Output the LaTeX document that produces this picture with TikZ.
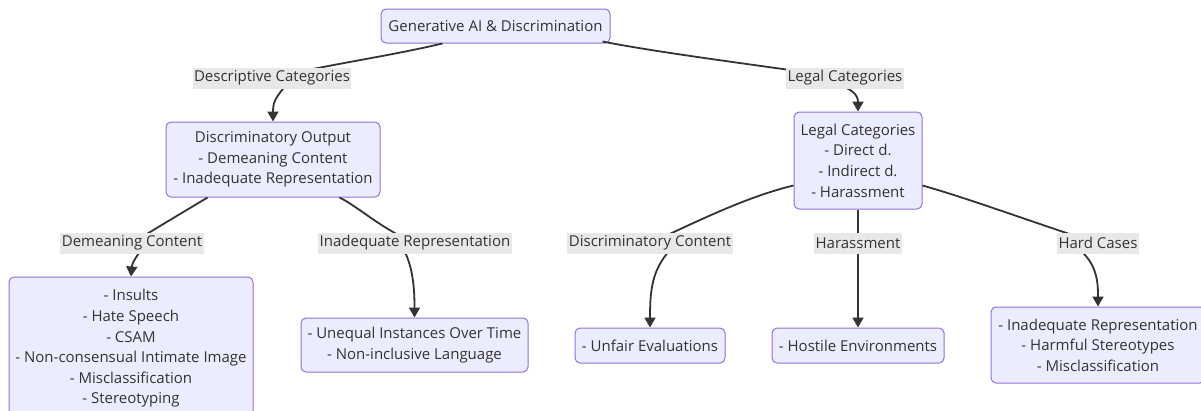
\documentclass[tikz,border=0pt]{standalone}
\usepackage{fontspec}
\setmainfont{Open Sans}
\usetikzlibrary{arrows.meta}
\definecolor{boxfill}{HTML}{ECECFF}
\definecolor{boxline}{HTML}{9370DB}
\definecolor{txt}{HTML}{333333}
\definecolor{lblbg}{HTML}{E8E8E8}
\tikzset{
  box/.style={draw=boxline, fill=boxfill, line width=1pt, rounded corners=5pt, align=center, text=txt, inner sep=0pt, font=\fontsize{15}{20.6}\selectfont},
  lbl/.style={fill=lblbg, text=txt, inner sep=1.5pt, font=\fontsize{15}{16}\selectfont, minimum height=21pt},
  conn/.style={draw=txt, line width=1.8pt},
  arr/.style={conn, -{Triangle[width=11pt,length=10pt]}},
}
\begin{document}
\begin{tikzpicture}[x=1pt,y=-1pt]
\clip (0,0) rectangle (1201,410);
\fill[white] (0,0) rectangle (1201,410);
% nodes
\node[box, minimum width=229pt, minimum height=34pt] (root) at (495.5,26) {Generative AI \& Discrimination};
\node[box, minimum width=214pt, minimum height=75pt] (do) at (273,159.5) {Discriminatory Output\\- Demeaning Content\\- Inadequate Representation};
\node[box, minimum width=128pt, minimum height=97pt] (lc) at (858,160.5) {Legal Categories\\- Direct d.\\- Indirect d.\\- Harassment};
\node[box, minimum width=244pt, minimum height=166pt] (dem) at (131,360) {- Insults\\- Hate Speech\\- CSAM\\- Non-consensual Intimate Image\\- Misclassification\\- Stereotyping\\\strut};
\node[box, minimum width=227pt, minimum height=54pt] (ineq) at (414.5,345) {- Unequal Instances Over Time\\- Non-inclusive Language};
\node[box, minimum width=150pt, minimum height=35pt] (unf) at (650,345.5) {- Unfair Evaluations};
\node[box, minimum width=172pt, minimum height=35pt] (hos) at (858,345.5) {- Hostile Environments};
\node[box, minimum width=214pt, minimum height=76pt] (hard) at (1098,345) {- Inadequate Representation\\- Harmful Stereotypes\\- Misclassification};
% edge label anchors
\coordinate (l1) at (272,78);
\coordinate (l2) at (845,78);
\coordinate (l3) at (132,243);
\coordinate (l4) at (415,243);
\coordinate (l5) at (650,243);
\coordinate (l6) at (858,243);
\coordinate (l7) at (1098,243);
\coordinate (e1) at (285,86);
\coordinate (e2) at (834,84);
\coordinate (e3) at (141,250);
\coordinate (e4) at (404,250);
\coordinate (e5) at (670,250);
\coordinate (e7) at (1080,250);
% connectors
\draw[conn] (root.south west) ++(62,0) .. controls +(-60,14) and (330,64) .. (l1);
\draw[arr] (e1) .. controls (277,97) and (273,100) .. (do.north);
\draw[conn] (root.south east) ++(-8,-2) .. controls +(60,12) and (780,68) .. (l2);
\draw[arr] (e2) .. controls (852,88) and (858,95) .. (lc.north);
\draw[conn] (do.south west) ++(42,0) .. controls +(-30,18) and (150,232) .. (l3);
\draw[arr] (e3) .. controls (134,260) and (132,264) .. (dem.north);
\draw[conn] (do.south west) ++(174,0) .. controls +(20,10) and (380,228) .. (l4);
\draw[arr] (e4) .. controls (413,268) and (414.5,288) .. (ineq.north);
\draw[conn] (lc.west) ++(0,25) .. controls +(-50,12) and (690,225) .. (l5);
\draw[arr] (e5) .. controls (652,270) and (650,290) .. (unf.north);
\draw[arr] (lc.south) -- (hos.north);
\draw[conn] (lc.east) ++(0,25) .. controls +(50,14) and (1060,232) .. (l7);
\draw[arr] (e7) .. controls (1097,265) and (1098,282) .. (hard.north);
% edge labels
\node[lbl] at (l1) {Descriptive Categories};
\node[lbl] at (l2) {Legal Categories};
\node[lbl] at (l3) {Demeaning Content};
\node[lbl] at (l4) {Inadequate Representation};
\node[lbl] at (l5) {Discriminatory Content};
\node[lbl] at (l6) {Harassment};
\node[lbl] at (l7) {Hard Cases};
\end{tikzpicture}
\end{document}
